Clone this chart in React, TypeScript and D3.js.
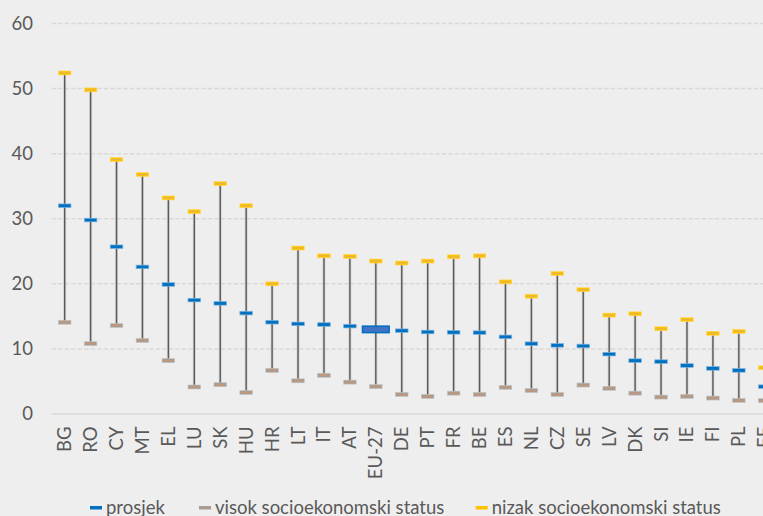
import React from "react";
import * as d3 from "d3";

const countries = ["BG","RO","CY","MT","EL","LU","SK","HU","HR","LT","IT","AT","EU-27","DE","PT","FR","BE","ES","NL","CZ","SE","LV","DK","SI","IE","FI","PL","EE"];
const prosjek = [32.0,29.8,25.7,22.6,19.9,17.5,17.0,15.5,14.1,13.85,13.75,13.5,13.0,12.8,12.6,12.55,12.5,11.85,10.8,10.55,10.45,9.2,8.2,8.05,7.45,7.0,6.7,4.2];
const visok = [14.1,10.8,13.6,11.3,8.2,4.15,4.5,3.3,6.7,5.1,5.95,4.9,4.2,3.0,2.7,3.2,3.0,4.1,3.6,3.0,4.45,3.95,3.2,2.6,2.7,2.45,2.1,2.05];
const nizak = [52.4,49.8,39.1,36.8,33.2,31.1,35.4,32.0,20.0,25.5,24.3,24.2,23.5,23.2,23.5,24.15,24.3,20.3,18.1,21.6,19.1,15.2,15.4,13.1,14.5,12.4,12.7,7.1];
const yTicks = [0,10,20,30,40,50,60];
const legendLabels = ["prosjek","visok socioekonomski status","nizak socioekonomski status"];

const W = 763, H = 516;
const FONT = "Lato, 'Open Sans', sans-serif";

export default function App() {
  const x = d3.scaleBand<string>().domain(countries).range([51.7, 51.7 + 28 * 25.93]);
  const y = d3.scaleLinear().domain([0, 60]).range([414, 23.5]);
  const cx = (c: string) => (x(c) as number) + x.bandwidth() / 2;

  return (
    <svg width={W} height={H} style={{ position: "absolute", left: 0, top: 0, background: "#eeeeee" }} fontFamily={FONT}>
      <rect x={0} y={0} width={W} height={H} fill="#eeeeee" />
      {yTicks.filter(t => t > 0).map(t => (
        <line key={"g" + t} x1={51.7} x2={W} y1={y(t)} y2={y(t)} stroke="#d9d9d9" strokeWidth={1.5} strokeDasharray="4.5,2" />
      ))}
      <line x1={51.7} x2={W} y1={y(0)} y2={y(0)} stroke="#d9d9d9" strokeWidth={1.5} />
      {yTicks.map(t => (
        <text key={"t" + t} x={33} y={y(t)} dy="0.35em" textAnchor="end" fontSize={18.5} fill="#595959">{t}</text>
      ))}
      {countries.map((c, i) => {
        const xc = cx(c);
        const isEU = c === "EU-27";
        return (
          <g key={c}>
            <line x1={xc} x2={xc} y1={y(visok[i])} y2={y(nizak[i])} stroke="#bdbdbd" strokeWidth={3} opacity={0.5} />
            <line x1={xc} x2={xc} y1={y(visok[i])} y2={y(nizak[i])} stroke="#5a5a5a" strokeWidth={1.4} />
            <rect x={xc - 6.3} y={y(nizak[i]) - 2} width={12.6} height={4} fill="#ffc000" stroke="#ffd966" strokeWidth={0.6} />
            <line x1={xc - 4.5} x2={xc + 4.5} y1={y(nizak[i])} y2={y(nizak[i])} stroke="#d0b565" strokeWidth={0.9} />
            <rect x={xc - 6.3} y={y(visok[i]) - 2} width={12.6} height={4} fill="#a89c92" stroke="#c4c4c4" strokeWidth={0.6} />
            <line x1={xc - 4.5} x2={xc + 4.5} y1={y(visok[i])} y2={y(visok[i])} stroke="#d4946a" strokeWidth={0.9} />
            {isEU ? (
              <rect x={xc - 13.3} y={y(prosjek[i]) - 3.2} width={26.6} height={6.4} fill="#4472c4" stroke="#0070c0" strokeWidth={1.6} />
            ) : (
              <rect x={xc - 6.3} y={y(prosjek[i]) - 1.8} width={12.6} height={3.6} fill="#0070c0" stroke="#7fb4e0" strokeWidth={0.7} />
            )}
            <text transform={`translate(${xc},${426.5}) rotate(-90)`} textAnchor="end" dy="0.35em" fontSize={18.5} fill="#595959">{c}</text>
          </g>
        );
      })}
      {/* legend */}
      {[
        { x: 90, color: "#0070c0", label: legendLabels[0] },
        { x: 199, color: "#a89c92", label: legendLabels[1] },
        { x: 475.7, color: "#ffc000", label: legendLabels[2] },
      ].map(l => (
        <g key={l.label}>
          <rect x={l.x} y={506} width={12} height={3.5} fill={l.color} />
          <text x={l.x + 16} y={508} dy="0.35em" fontSize={18.5} fill="#595959">{l.label}</text>
        </g>
      ))}
    </svg>
  );
}
